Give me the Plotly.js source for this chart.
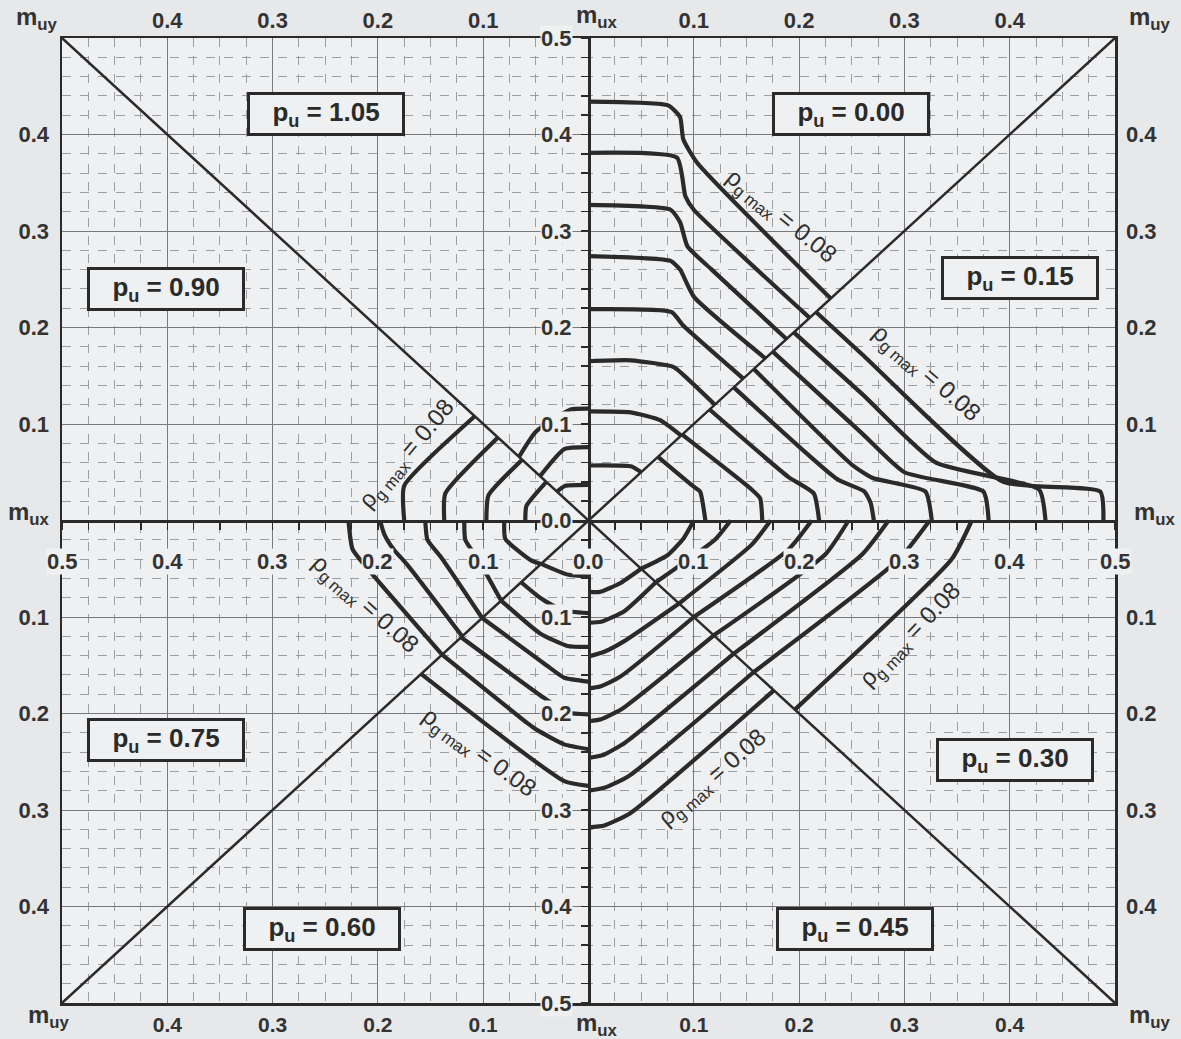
<!DOCTYPE html>
<html>
<head>
<meta charset="utf-8">
<script src="https://cdn.plot.ly/plotly-3.0.1.min.js"></script>
<style>
  html, body { margin: 0; padding: 0; background: #e7e8ea; }
  #chart { width: 1181px; height: 1039px; }
</style>
</head>
<body>
<div id="chart"></div>
<script>
// ---- axis ticks --------------------------------------------------------
const sideTicks = [-0.4, -0.3, -0.2, -0.1, 0.1, 0.2, 0.3, 0.4];
const sideTickText = ['0.4', '0.3', '0.2', '0.1', '0.1', '0.2', '0.3', '0.4'];
const centerTicks = [-0.5, -0.4, -0.3, -0.2, -0.1, 0, 0.1, 0.2, 0.3, 0.4, 0.5];
const centerTickText = ['0.5', '0.4', '0.3', '0.2', '0.1', '0.0', '0.1', '0.2', '0.3', '0.4', '0.5'];

// ---- axial-load levels, one per octant ----------------------------------
const puLevels = ['0.00', '0.15', '0.30', '0.45', '0.60', '0.75', '0.90', '1.05'];

// ---- interaction contours [m_x, m_y] per octant -------------------------
// p_u = 0.00 : from the vertical axis to the diagonal
const contoursPu000 = [
  [[0, 0.434], [0.076, 0.43], [0.087, 0.418], [0.09, 0.395], [0.103, 0.371], [0.23, 0.23]],
  [[0, 0.381], [0.084, 0.376], [0.092, 0.336], [0.1, 0.322], [0.21, 0.21]],
  [[0, 0.327], [0.078, 0.322], [0.087, 0.309], [0.094, 0.284], [0.117, 0.26], [0.188, 0.188]],
  [[0, 0.274], [0.078, 0.269], [0.087, 0.26], [0.1, 0.232], [0.168, 0.168]],
  [[0, 0.219], [0.079, 0.216], [0.09, 0.202], [0.147, 0.147]],
  [[0, 0.165], [0.04, 0.166], [0.081, 0.159], [0.094, 0.147], [0.12, 0.12]],
  [[0, 0.113], [0.04, 0.112], [0.068, 0.104], [0.088, 0.088]],
  [[0, 0.057], [0.041, 0.056], [0.05, 0.05]]
];
// p_u = 0.15 : from the diagonal to the horizontal axis
const contoursPu015 = [
  [[0.216, 0.216], [0.26, 0.172], [0.394, 0.04], [0.486, 0.03], [0.489, 0]],
  [[0.195, 0.195], [0.26, 0.131], [0.33, 0.06], [0.428, 0.032], [0.434, 0]],
  [[0.175, 0.175], [0.26, 0.09], [0.30, 0.05], [0.375, 0.03], [0.38, 0]],
  [[0.157, 0.157], [0.25, 0.058], [0.27, 0.044], [0.32, 0.03], [0.326, 0]],
  [[0.138, 0.138], [0.236, 0.043], [0.262, 0.03], [0.268, 0.018], [0.271, 0]],
  [[0.115, 0.115], [0.19, 0.045], [0.214, 0.028], [0.219, 0]],
  [[0.089, 0.089], [0.154, 0.033], [0.163, 0.023], [0.165, 0]],
  [[0.066, 0.066], [0.1, 0.035], [0.106, 0.03], [0.111, 0]]
];
// p_u = 0.30 : from the anti-diagonal to the horizontal axis
const contoursPu030 = [
  [[0.05, -0.05], [0.075, -0.036], [0.09, -0.019], [0.1, 0]],
  [[0.064, -0.064], [0.12, -0.02], [0.135, 0]],
  [[0.086, -0.086], [0.155, -0.025], [0.173, 0]],
  [[0.1, -0.1], [0.19, -0.03], [0.212, 0]],
  [[0.119, -0.119], [0.225, -0.035], [0.247, 0]],
  [[0.138, -0.138], [0.26, -0.035], [0.285, 0]],
  [[0.157, -0.157], [0.295, -0.04], [0.324, 0]],
  [[0.196, -0.196], [0.345, -0.04], [0.364, 0]]
];
// p_u = 0.45 : from the vertical axis to the anti-diagonal
const contoursPu045 = [
  [[0, -0.074], [0.011, -0.074], [0.03, -0.065], [0.05, -0.05]],
  [[0, -0.106], [0.012, -0.105], [0.034, -0.094], [0.064, -0.064]],
  [[0, -0.141], [0.015, -0.136], [0.034, -0.125], [0.086, -0.086]],
  [[0, -0.174], [0.011, -0.172], [0.03, -0.162], [0.1, -0.1]],
  [[0, -0.208], [0.012, -0.206], [0.032, -0.195], [0.119, -0.119]],
  [[0, -0.246], [0.014, -0.243], [0.035, -0.23], [0.138, -0.138]],
  [[0, -0.280], [0.015, -0.277], [0.038, -0.265], [0.157, -0.157]],
  [[0, -0.318], [0.015, -0.316], [0.04, -0.303], [0.176, -0.176]]
];
// p_u = 0.60 : from the diagonal to the vertical axis
const contoursPu060 = [
  [[-0.045, -0.045], [-0.02, -0.056], [0, -0.058]],
  [[-0.064, -0.064], [-0.046, -0.08], [-0.025, -0.093], [0, -0.096]],
  [[-0.083, -0.083], [-0.046, -0.117], [-0.02, -0.13], [0, -0.131]],
  [[-0.101, -0.101], [-0.04, -0.15], [-0.023, -0.163], [0, -0.167]],
  [[-0.121, -0.121], [-0.042, -0.184], [-0.02, -0.199], [0, -0.201]],
  [[-0.139, -0.139], [-0.058, -0.21], [-0.049, -0.217], [-0.023, -0.232], [0, -0.237]],
  [[-0.159, -0.159], [-0.023, -0.27], [0, -0.275]]
];
// p_u = 0.75 : from the horizontal axis to the diagonal
const contoursPu075 = [
  [[-0.228, 0], [-0.224, -0.03], [-0.205, -0.056], [-0.139, -0.139]],
  [[-0.198, 0], [-0.194, -0.014], [-0.185, -0.03], [-0.172, -0.046], [-0.12, -0.12]],
  [[-0.155, 0], [-0.153, -0.02], [-0.14, -0.038], [-0.101, -0.101]],
  [[-0.118, 0], [-0.117, -0.02], [-0.105, -0.04], [-0.083, -0.083]],
  [[-0.08, 0], [-0.079, -0.019], [-0.055, -0.041], [-0.045, -0.045]]
];
// p_u = 0.90 : from the horizontal axis to the anti-diagonal
const contoursPu090 = [
  [[-0.175, 0], [-0.175, 0.036], [-0.108, 0.108]],
  [[-0.137, 0], [-0.136, 0.028], [-0.086, 0.086]],
  [[-0.097, 0], [-0.095, 0.026], [-0.063, 0.063]],
  [[-0.06, 0], [-0.059, 0.015], [-0.04, 0.04]]
];
// p_u = 1.05 : from the anti-diagonal to the vertical axis
const contoursPu105 = [
  [[-0.066, 0.066], [-0.05, 0.092], [-0.017, 0.115], [0, 0.116]],
  [[-0.046, 0.046], [-0.023, 0.074], [0, 0.076]],
  [[-0.03, 0.03], [-0.022, 0.036], [0, 0.037]]
];

// ---- styling ------------------------------------------------------------
const INK = '#2a2a2a';
const PLOT_BG = '#eef0f2';
const FONT = 'Liberation Sans, Arial, Helvetica, sans-serif';
const R = 0.5; // half-width of both axes

function contourTrace(curves) {
  const x = [], y = [];
  curves.forEach(c => {
    c.forEach(p => { x.push(p[0]); y.push(p[1]); });
    x.push(null); y.push(null);
  });
  return {
    type: 'scatter', mode: 'lines', x, y, connectgaps: false,
    line: { color: INK, width: 4.2, shape: 'spline', smoothing: 0.5 },
    hoverinfo: 'skip'
  };
}

const traces = [
  // octant dividers
  { type: 'scatter', mode: 'lines', x: [-R, R], y: [-R, R], line: { color: INK, width: 2.5 }, hoverinfo: 'skip' },
  { type: 'scatter', mode: 'lines', x: [-R, R], y: [R, -R], line: { color: INK, width: 2.5 }, hoverinfo: 'skip' },
  contourTrace(contoursPu000), contourTrace(contoursPu015),
  contourTrace(contoursPu030), contourTrace(contoursPu045),
  contourTrace(contoursPu060), contourTrace(contoursPu075),
  contourTrace(contoursPu090), contourTrace(contoursPu105),
  // carriers for the mirrored and central axes
  { type: 'scatter', x: [], y: [], xaxis: 'x2', yaxis: 'y2', hoverinfo: 'skip' },
  { type: 'scatter', x: [], y: [], xaxis: 'x3', yaxis: 'y3', hoverinfo: 'skip' }
];

const tickFont = { family: FONT, size: 22, color: '#333', weight: 'bold' };
const bottomFont = { family: FONT, size: 21, color: '#333', weight: 'bold' };
const minorGrid = { showgrid: true, gridcolor: '#9c9ea1', griddash: 'dash', gridwidth: 1 };

const sideAxis = (extra) => Object.assign({
  range: [-R, R], tickmode: 'array', tickvals: sideTicks, ticktext: sideTickText,
  ticks: '', showgrid: false, zeroline: false, showline: false,
  tickfont: tickFont, fixedrange: true
}, extra);

const layout = {
  width: 1181, height: 1039,
  margin: { l: 62, r: 66, t: 38, b: 36 },
  paper_bgcolor: '#e7e8ea', plot_bgcolor: PLOT_BG,
  showlegend: false,
  font: { family: FONT, color: '#333' },
  xaxis: sideAxis({
    showgrid: true, gridcolor: '#77797c', gridwidth: 1,
    showline: true, linecolor: INK, linewidth: 2.5, mirror: true,
    minor: Object.assign({ tickmode: 'linear', tick0: 0, dtick: 0.025 }, minorGrid),
    tickfont: bottomFont, ticklabelstandoff: 1
  }),
  yaxis: sideAxis({
    showgrid: true, gridcolor: '#77797c', gridwidth: 1,
    showline: true, linecolor: INK, linewidth: 2.5, mirror: true,
    minor: Object.assign({ tickmode: 'linear', tick0: 0, dtick: 0.02 }, minorGrid),
    ticklabelstandoff: 6
  }),
  xaxis2: sideAxis({ overlaying: 'x', side: 'top', anchor: 'y2', ticklabelstandoff: 5 }),
  yaxis2: sideAxis({ overlaying: 'y', side: 'right', anchor: 'x2', ticklabelstandoff: 10 }),
  // central axes carrying the fine tick marks
  xaxis3: {
    overlaying: 'x', anchor: 'free', position: 0.5, range: [-R, R],
    showline: true, linecolor: INK, linewidth: 3,
    tickmode: 'linear', tick0: 0, dtick: 0.025, ticks: 'outside', ticklen: 7,
    tickwidth: 1.5, tickcolor: INK, showticklabels: false,
    showgrid: false, zeroline: false, fixedrange: true
  },
  yaxis3: {
    overlaying: 'y', anchor: 'free', position: 0.5, side: 'left', range: [-R, R],
    showline: true, linecolor: INK, linewidth: 3,
    tickmode: 'linear', tick0: 0, dtick: 0.02, ticks: 'outside', ticklen: 7,
    tickwidth: 1.5, tickcolor: INK, showticklabels: false,
    showgrid: false, zeroline: false, fixedrange: true
  },
  annotations: []
};

const ann = layout.annotations;

// centre-axis numbering (drawn over the contours)
centerTicks.forEach((v, i) => {
  ann.push({
    x: 0, y: v, xref: 'x', yref: 'y', text: centerTickText[i], showarrow: false,
    xanchor: 'right', yanchor: 'middle', xshift: -16, font: tickFont, bgcolor: PLOT_BG, borderpad: 0
  });
  ann.push({
    x: v, y: 0, xref: 'x', yref: 'y', text: centerTickText[i], showarrow: false,
    xanchor: 'center', yanchor: 'top', yshift: -27, font: tickFont, bgcolor: PLOT_BG, borderpad: 0
  });
});

// moment axis names
const mFont = { family: FONT, size: 24, color: '#333', weight: 'bold' };
const MUX = 'm<sub>ux</sub>', MUY = 'm<sub>uy</sub>';
[
  [MUY, -0.024, 1.02], [MUX, 0.508, 1.022], [MUY, 1.033, 1.02],
  [MUX, -0.031, 0.507], [MUX, 1.038, 0.507],
  [MUY, -0.012, -0.014], [MUX, 0.508, -0.022], [MUY, 1.033, -0.014]
].forEach(([t, x, y]) => ann.push({
  x, y, xref: 'paper', yref: 'paper', text: t, showarrow: false, font: mFont,
  xanchor: 'center', yanchor: 'middle'
}));

// p_u boxes, one per octant (same order as puLevels)
const boxSpots = [
  [0.2495, 0.4215], [0.41, 0.251], [0.405, -0.248], [0.253, -0.4236],
  [-0.253, -0.4236], [-0.401, -0.227], [-0.401, 0.2397], [-0.2495, 0.4215]
];
puLevels.forEach((lv, i) => ann.push({
  x: boxSpots[i][0], y: boxSpots[i][1], xref: 'x', yref: 'y',
  text: 'p<sub>u</sub> = ' + lv, showarrow: false,
  xanchor: 'center', yanchor: 'middle',
  font: { family: FONT, size: 26, color: '#2a2a2a', weight: 'bold' },
  bgcolor: PLOT_BG, bordercolor: INK, borderwidth: 3, borderpad: 2,
  width: 148, height: 34, align: 'center', valign: 'middle'
}));

// reinforcement-limit captions along the outer contours
const rhoText = '\u03C1<sub>g max</sub> = 0.08';
[
  [0.182, 0.315, 39], [0.320, 0.152, 41], [-0.172, 0.068, -50],
  [-0.213, -0.087, 42], [-0.104, -0.241, 36], [0.118, -0.267, -41], [0.306, -0.119, -46]
].forEach(([x, y, a]) => ann.push({
  x, y, xref: 'x', yref: 'y', text: rhoText, showarrow: false, textangle: a,
  xanchor: 'center', yanchor: 'middle',
  font: { family: FONT, size: 24, color: '#2e2e2e' }
}));

Plotly.newPlot('chart', traces, layout, { staticPlot: true, displayModeBar: false });
</script>
</body>
</html>
